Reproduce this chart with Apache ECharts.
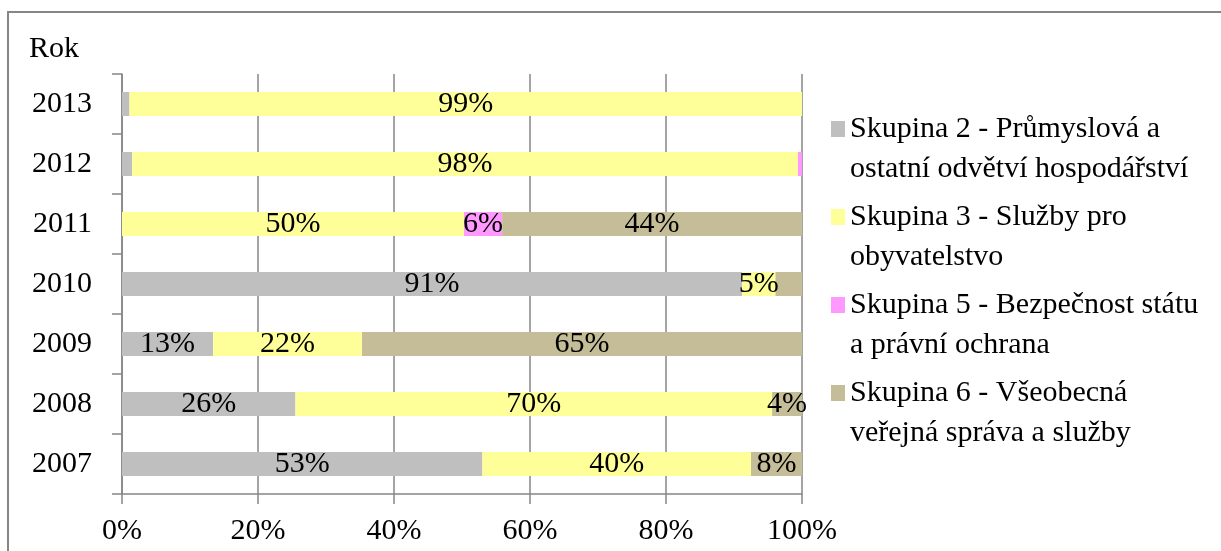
<!DOCTYPE html>
<html>
<head>
<meta charset="utf-8">
<script src="https://cdn.jsdelivr.net/npm/echarts@6/dist/echarts.min.js"></script>
<style>
  html, body { margin: 0; padding: 0; background: #fff; }
  #chart { width: 1221px; height: 551px; }
</style>
</head>
<body>
<div id="chart"></div>
<script>
// roky (odspodu nahoru)
var years = ['2007', '2008', '2009', '2010', '2011', '2012', '2013']

// podíly skupin v %
var skupina2 = [53, 25.5, 13.4, 91.2, 0, 1.5, 1.1]
var skupina3 = [39.5, 70.1, 21.9, 4.9, 50.3, 97.9, 98.9]
var skupina5 = [0, 0, 0, 0, 5.6, 0.6, 0]
var skupina6 = [7.5, 4.4, 64.7, 3.9, 44.1, 0, 0]

var seriesNames = [
  'Skupina 2 - Průmyslová a ostatní odvětví hospodářství',
  'Skupina 3 - Služby pro obyvatelstvo',
  'Skupina 5 - Bezpečnost státu a právní ochrana',
  'Skupina 6 - Všeobecná veřejná správa a služby'
]
var legendLines = [
  'Skupina 2 - Průmyslová a\nostatní odvětví hospodářství',
  'Skupina 3 - Služby pro\nobyvatelstvo',
  'Skupina 5 - Bezpečnost státu\na právní ochrana',
  'Skupina 6 - Všeobecná\nveřejná správa a služby'
]
var colors = ['#BFBFBF', '#FFFF99', '#FF99FF', '#C4BD97']
var xTicks = [0, 20, 40, 60, 80, 100]

// popisky, které v grafu nejsou (rok|skupina)
var hiddenLabels = ['2010|3']

var font = '"Liberation Serif", "Times New Roman", serif'
var fontSize = 30

function makeSeries(idx, values) {
  return {
    name: seriesNames[idx],
    type: 'bar',
    stack: 'total',
    barWidth: 24,
    itemStyle: { color: colors[idx] },
    label: {
      show: true,
      position: 'inside',
      color: '#000',
      fontFamily: font,
      fontSize: fontSize,
      formatter: function (p) {
        if (p.value < 3) return ''
        if (hiddenLabels.indexOf(p.name + '|' + idx) >= 0) return ''
        return Math.round(p.value) + '%'
      }
    },
    data: values
  }
}

var chart = echarts.init(document.getElementById('chart'))
var option = {
  animation: false,
  backgroundColor: '#fff',
  textStyle: { fontFamily: font },
  title: {
    text: 'Rok',
    left: 29,
    top: 34,
    padding: 0,
    textStyle: { fontFamily: font, fontSize: fontSize, fontWeight: 'normal', color: '#000' }
  },
  graphic: [{
    type: 'rect',
    shape: { x: 8, y: 12, width: 1240, height: 580 },
    style: { fill: 'none', stroke: '#868686', lineWidth: 2 },
    silent: true
  }],
  legend: {
    orient: 'vertical',
    left: 831,
    top: 109,
    padding: 0,
    itemWidth: 14,
    itemHeight: 56,
    itemGap: 8,
    // čtvereček nahoře, aby seděl s prvním řádkem textu
    icon: 'path://M0,0H14V16H0Z M0,56H0.01V56.01H0Z',
    formatter: function (name) {
      return legendLines[seriesNames.indexOf(name)]
    },
    textStyle: {
      fontFamily: font,
      fontSize: fontSize,
      lineHeight: 40,
      color: '#000'
    }
  },
  grid: { left: 122, right: 419, top: 74, bottom: 57, containLabel: false },
  xAxis: {
    type: 'value',
    min: xTicks[0],
    max: xTicks[xTicks.length - 1],
    interval: 20,
    axisLine: { show: true, lineStyle: { color: '#868686', width: 1.5 } },
    axisTick: { show: true, length: 10, lineStyle: { color: '#868686', width: 1.5 } },
    splitLine: { show: true, lineStyle: { color: '#868686', width: 1.5 } },
    axisLabel: {
      margin: 22,
      color: '#000',
      fontFamily: font,
      fontSize: fontSize,
      formatter: '{value}%'
    }
  },
  yAxis: {
    type: 'category',
    data: years,
    axisLine: { show: true, lineStyle: { color: '#868686', width: 1.5 } },
    axisTick: { show: true, length: 10, lineStyle: { color: '#868686', width: 1.5 } },
    axisLabel: {
      margin: 30,
      color: '#000',
      fontFamily: font,
      fontSize: fontSize
    }
  },
  series: [
    makeSeries(0, skupina2),
    makeSeries(1, skupina3),
    makeSeries(2, skupina5),
    makeSeries(3, skupina6)
  ]
}
chart.setOption(option)
</script>
</body>
</html>
